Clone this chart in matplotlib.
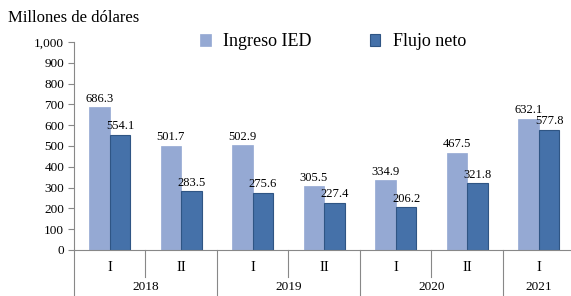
import matplotlib
matplotlib.use("Agg")
import matplotlib.pyplot as plt
import numpy as np

quarters = ["I", "II", "I", "II", "I", "II", "I"]
years = ["2018", "2019", "2020", "2021"]
year_spans = [2, 2, 2, 1]
ingreso = [686.3, 501.7, 502.9, 305.5, 334.9, 467.5, 632.1]
flujo = [554.1, 283.5, 275.6, 227.4, 206.2, 321.8, 577.8]

plt.rcParams['font.family'] = ['Liberation Serif', 'DejaVu Serif']

fig = plt.figure(figsize=(5.71, 2.96), dpi=100)
ax = fig.add_axes([74/571, 1-250/296, 500.5/571, 208/296])

x = np.arange(len(quarters))
w = 0.29
c1 = "#95A9D3"
c2 = "#4571A9"
b1 = ax.bar(x - w/2, ingreso, w, color=c1, edgecolor=c1, linewidth=0.5, label="Ingreso IED")
b2 = ax.bar(x + w/2, flujo, w, color=c2, edgecolor="#2F5584", linewidth=0.8, label="Flujo neto")

for xi, v in zip(x - w/2, ingreso):
    ax.text(xi, v + 12, f"{v:.1f}", ha="center", va="bottom", fontsize=9)
for xi, v in zip(x + w/2, flujo):
    ax.text(xi, v + 12, f"{v:.1f}", ha="center", va="bottom", fontsize=9)

ax.set_xlim(-0.5, len(quarters) - 0.5)
ax.set_ylim(0, 1000)
ax.set_yticks(range(0, 1001, 100))
ax.set_yticklabels([f"{v:,}" for v in range(0, 1001, 100)], fontsize=9.5)
ax.tick_params(axis="y", length=4, color="#888888", pad=3)
ax.set_xticks([])
for s in ["top", "right"]:
    ax.spines[s].set_visible(False)
ax.spines["left"].set_color("#888888")
ax.spines["bottom"].set_color("#888888")

trans = ax.get_xaxis_transform()
for xi, q in zip(x, quarters):
    ax.text(xi, -0.085, q, transform=trans, ha="center", va="center", fontsize=10.5)

# dividers
pos = 0
ax.plot([-0.5, -0.5], [0, -0.3], transform=trans, color="#888888", lw=0.8, clip_on=False)
for y, span in zip(years, year_spans):
    for k in range(1, span):
        xd = pos + k - 0.5
        ax.plot([xd, xd], [0, -0.13], transform=trans, color="#888888", lw=0.8, clip_on=False)
    center = pos + (span - 1) / 2
    ax.text(center, -0.18, y, transform=trans, ha="center", va="center", fontsize=9.5)
    pos += span
    xd = pos - 0.5
    ax.plot([xd, xd], [0, -0.3], transform=trans, color="#888888", lw=0.8, clip_on=False)

fig.text(8/571, 1-18/296, "Millones de dólares", ha="left", va="center", fontsize=12)

leg = fig.legend(handles=[b1, b2], labels=["Ingreso IED", "Flujo neto"], loc="center",
                 bbox_to_anchor=(333/571, 1-42/296), ncol=2, frameon=False, fontsize=13,
                 handlelength=0.6, handleheight=0.6, columnspacing=3.2, handletextpad=0.7)

fig.savefig("out.png", dpi=100)
